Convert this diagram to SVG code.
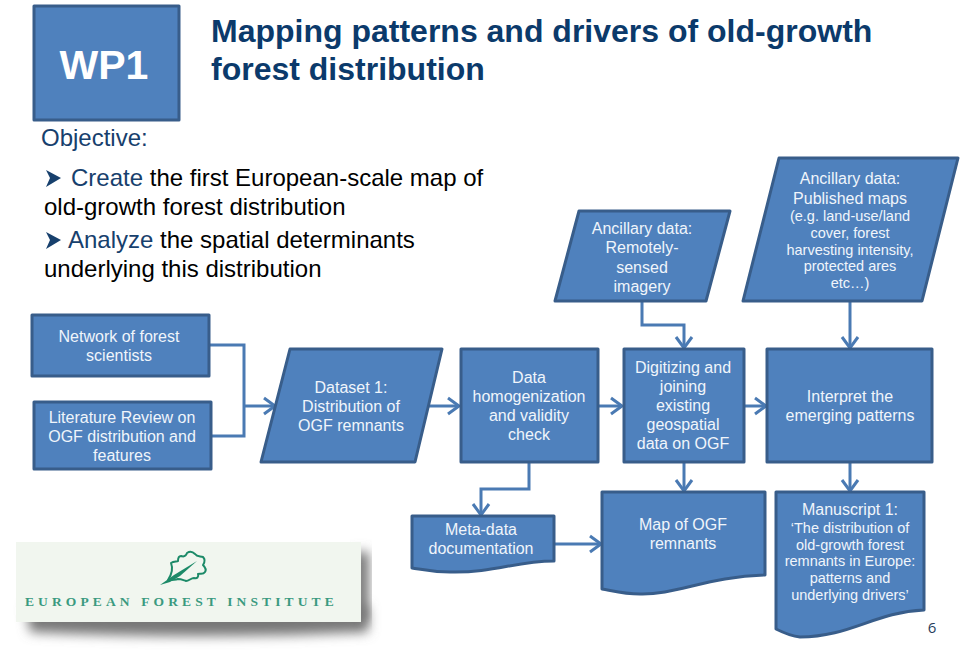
<svg xmlns="http://www.w3.org/2000/svg" width="960" height="653" viewBox="0 0 960 653">
<style>
.n{fill:#4f81bd;stroke:#385d8a;stroke-width:3;stroke-linejoin:round}
.t{font-family:"Liberation Sans",Arial,sans-serif;fill:#f0f5fb;text-anchor:middle;font-size:16px}
.s{font-size:14.5px}
.c{fill:none;stroke:#4a7ab3;stroke-width:3;stroke-linejoin:miter}
.h{font-family:"Liberation Sans",Arial,sans-serif;font-size:24px;fill:#000}
.b{fill:#17406d}
</style>
<defs>
<marker id="a" markerUnits="userSpaceOnUse" markerWidth="16" markerHeight="20" refX="13" refY="10" orient="auto"><path d="M2 2 L13 10 L2 18" fill="none" stroke="#4a7ab3" stroke-width="3"/></marker>
<filter id="sh" x="-10%" y="-40%" width="125%" height="190%"><feGaussianBlur stdDeviation="6"/></filter>
</defs>
<rect width="960" height="653" fill="#fff"/>
<g id="wp1"><rect class="n" x="34" y="6" width="145" height="114"/><text x="104" y="79" font-family="'Liberation Sans',Arial,sans-serif" font-weight="bold" font-size="41" fill="#fff" text-anchor="middle">WP1</text></g>
<g id="title" font-family="'Liberation Sans',Arial,sans-serif" font-weight="bold" font-size="32" fill="#0b3a6b"><text x="211" y="42">Mapping patterns and drivers of old-growth</text><text x="211" y="80">forest distribution</text></g>
<g id="objectives">
<text x="41" y="146" font-family="'Liberation Sans',Arial,sans-serif" font-size="24" fill="#17406d">Objective:</text>
<path d="M46 170 L61 178 L46 187 L50 178Z" fill="#17406d"/>
<text class="h" x="71" y="186"><tspan class="b">Create</tspan> the first European-scale map of</text>
<text class="h" x="44" y="215">old-growth forest distribution</text>
<path d="M46 232 L61 240 L46 249 L50 240Z" fill="#17406d"/>
<text class="h" x="68" y="248"><tspan class="b">Analyze</tspan> the spatial determinants</text>
<text class="h" x="44" y="277">underlying this distribution</text>
</g>
<g id="connectors">
<path class="c" d="M209 345H244V436H212"/>
<path class="c" d="M244 406H275" marker-end="url(#a)"/>
<path class="c" d="M428 406H459" marker-end="url(#a)"/>
<path class="c" d="M599 406H622" marker-end="url(#a)"/>
<path class="c" d="M745 406H766" marker-end="url(#a)"/>
<path class="c" d="M642 302V325H684V348" marker-end="url(#a)"/>
<path class="c" d="M850 302V348" marker-end="url(#a)"/>
<path class="c" d="M684 463V491" marker-end="url(#a)"/>
<path class="c" d="M850 463V491" marker-end="url(#a)"/>
<path class="c" d="M529 463V489H481V515" marker-end="url(#a)"/>
<path class="c" d="M553 544H601" marker-end="url(#a)"/>
</g>
<g id="network"><rect class="n" x="32" y="315" width="177" height="61"/><text class="t" x="119" y="342">Network of forest</text><text class="t" x="119" y="361">scientists</text></g>
<g id="literature"><rect class="n" x="34" y="402" width="177" height="67"/><text class="t" x="122" y="423">Literature Review on</text><text class="t" x="122" y="442">OGF distribution and</text><text class="t" x="122" y="461">features</text></g>
<g id="dataset"><path class="n" d="M290 349H442L415 462H261Z"/><text class="t" x="351" y="393">Dataset 1:</text><text class="t" x="351" y="412">Distribution of</text><text class="t" x="351" y="431">OGF remnants</text></g>
<g id="homog"><rect class="n" x="461" y="349" width="137" height="113"/><text class="t" x="529" y="383">Data</text><text class="t" x="529" y="402">homogenization</text><text class="t" x="529" y="421">and validity</text><text class="t" x="529" y="440">check</text></g>
<g id="digitizing"><rect class="n" x="624" y="349" width="120" height="113"/><text class="t" x="683" y="373">Digitizing and</text><text class="t" x="683" y="392">joining</text><text class="t" x="683" y="411">existing</text><text class="t" x="683" y="430">geospatial</text><text class="t" x="683" y="449">data on OGF</text></g>
<g id="interpret"><rect class="n" x="767" y="349" width="165" height="113"/><text class="t" x="850" y="402">Interpret the</text><text class="t" x="850" y="421">emerging patterns</text></g>
<g id="remote"><path class="n" d="M579 211H730L706 301H555Z"/><text class="t" x="642" y="234">Ancillary data:</text><text class="t" x="642" y="253">Remotely-</text><text class="t" x="642" y="273">sensed</text><text class="t" x="642" y="292">imagery</text></g>
<g id="published"><path class="n" d="M779 158H958L922 301H743Z"/><text class="t" x="850" y="184">Ancillary data:</text><text class="t" x="850" y="204">Published maps</text><text class="t s" x="850" y="221">(e.g. land-use/land</text><text class="t s" x="850" y="238">cover, forest</text><text class="t s" x="850" y="255">harvesting intensity,</text><text class="t s" x="850" y="271">protected ares</text><text class="t s" x="850" y="288">etc…)</text></g>
<g id="meta"><path class="n" d="M412 516H554V561C515 561 495 573 450 572C430 572 420 569 412 568Z"/><text class="t" x="481" y="535">Meta-data</text><text class="t" x="481" y="554">documentation</text></g>
<g id="map"><path class="n" d="M602 492H765V575C710 576 675 595 640 594C622 594 610 590 602 589Z"/><text class="t" x="683" y="530">Map of OGF</text><text class="t" x="683" y="549">remnants</text></g>
<g id="manuscript"><path class="n" d="M776 492H924V610C875 612 850 637 800 637C790 636 782 632 776 629Z"/><text class="t" x="850" y="515">Manuscript 1:</text><text class="t s" x="850" y="533">‘The distribution of</text><text class="t s" x="850" y="550">old-growth forest</text><text class="t s" x="850" y="566">remnants in Europe:</text><text class="t s" x="850" y="583">patterns and</text><text class="t s" x="850" y="600">underlying drivers’</text></g>
<g id="logo">
<path d="M26 606H368V632Q200 640 30 632Z" fill="#777" filter="url(#sh)"/>
<rect x="352" y="552" width="17" height="70" fill="#777" filter="url(#sh)"/>
<rect x="16" y="542" width="345" height="80" fill="#f1f6ef"/>
<path d="M168 580C172 574 173 568 171 563C174 561 177 562 178 561C178 558 179 556 181 556C184 557 186 556 187 553C190 551 193 552 195 554C197 557 200 556 203 557C205 559 205 562 203 565C205 567 207 569 205 572C203 575 200 573 198 574C199 577 197 579 194 578C191 578 189 581 186 581C183 580 181 579 178 579C175 580 171 580 168 580Z" fill="#f1f6ef" stroke="#1c8a68" stroke-width="2" stroke-linejoin="round"/>
<path d="M160 585L174 575L197 561L180 576L170 582Z" fill="#1c8a68"/>
<text x="25" y="606" font-family="'Liberation Serif',serif" font-size="13.5" font-weight="bold" letter-spacing="4.12" fill="#3a9a80">EUROPEAN FOREST INSTITUTE</text>
</g>
<text id="page" x="932" y="633" font-family="'Open Sans','Liberation Sans',sans-serif" font-size="15" fill="#1f3d5c" text-anchor="middle">6</text>
</svg>
